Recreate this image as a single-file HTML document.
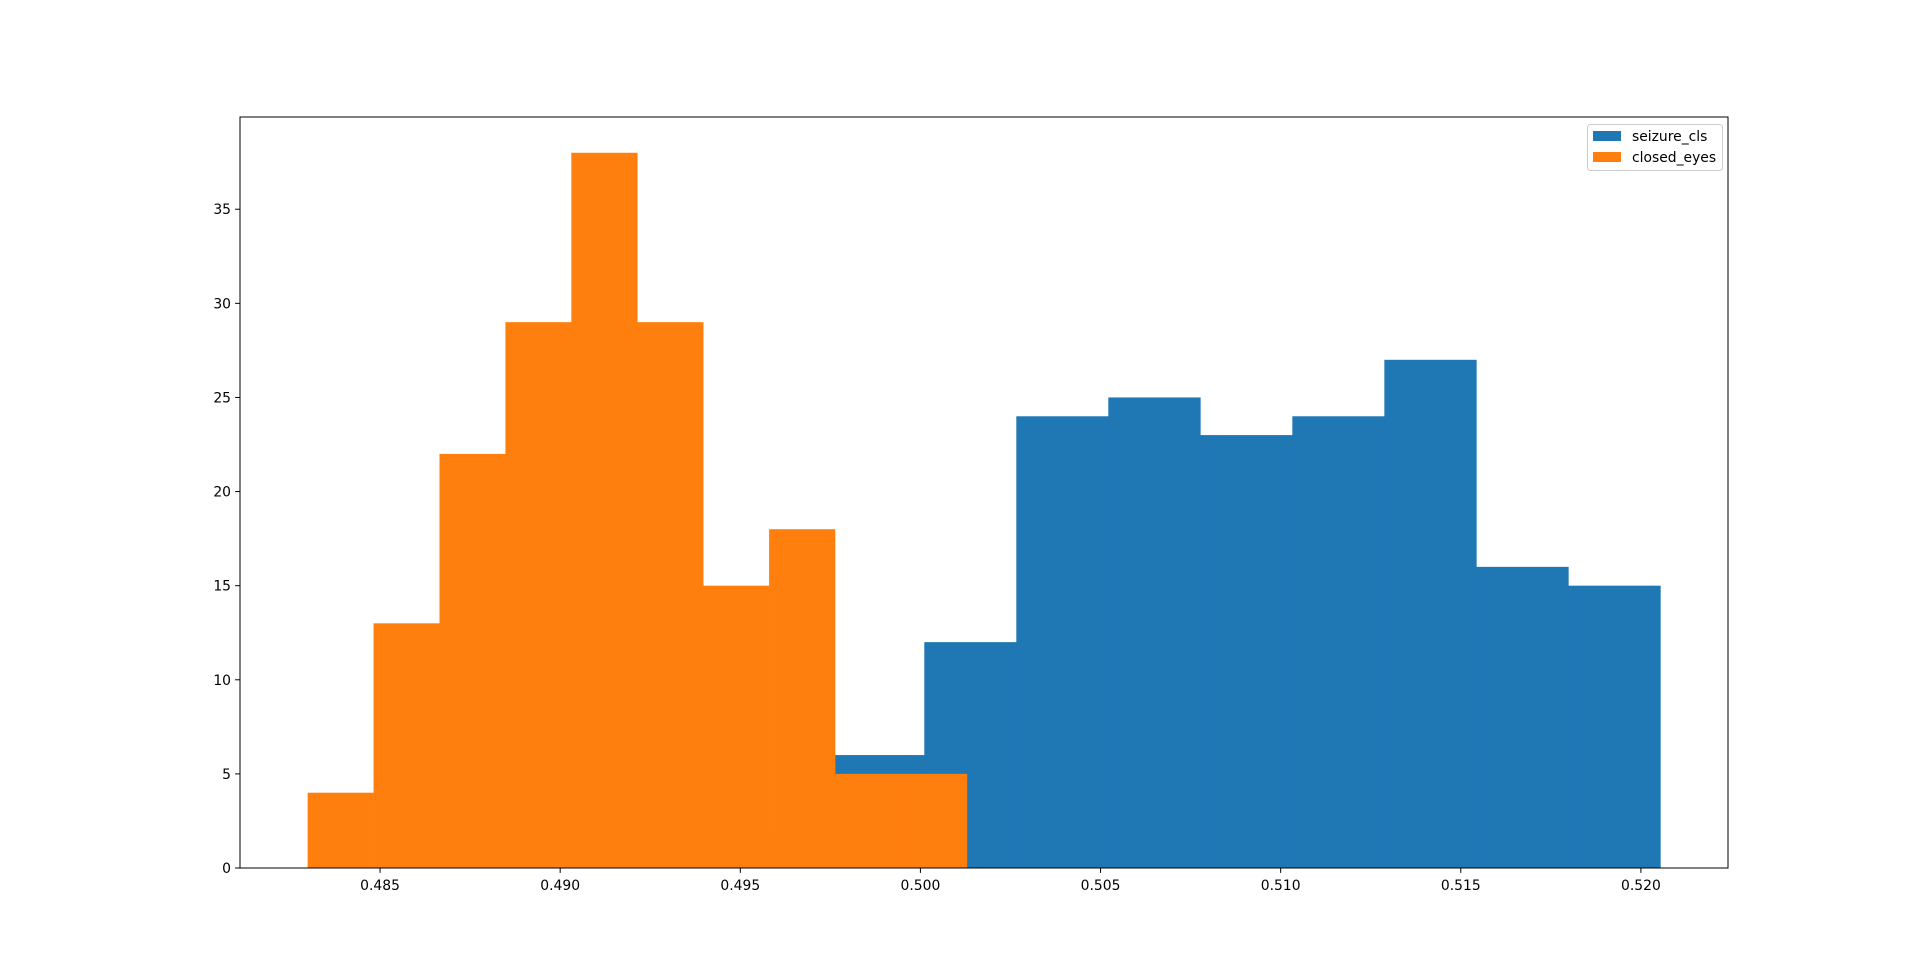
<!DOCTYPE html>
<html><head><meta charset="utf-8"><style>
html,body{margin:0;padding:0;background:#fff;}
svg{display:block;font-family:"DejaVu Sans","Liberation Sans",sans-serif;}
</style></head><body>
<svg id="chart" width="1920" height="975">
<rect width="1920" height="975" fill="#fff"/>
<g id="bars"></g>
<g id="axes"></g>
<g>
<rect x="1587.5" y="124.5" width="135" height="46" rx="3" fill="#fff" fill-opacity="0.8" stroke="#ccc"/>
<rect x="1593" y="131" width="28" height="10" fill="#1f77b4"/>
<text x="1632" y="141" font-size="13.9" fill="#000">seizure_cls</text>
<rect x="1593" y="152" width="28" height="10" fill="#ff7f0e"/>
<text x="1632" y="162" font-size="13.9" fill="#000">closed_eyes</text>
</g>
</svg>
<script>
const blueStart = 0.49500;
const blueEnd = 0.52054;
const blueCounts = [2, 6, 12, 24, 25, 23, 24, 27, 16, 15];
const orangeStart = 0.48299;
const orangeEnd = 0.50129;
const orangeCounts = [4, 13, 22, 29, 38, 29, 15, 18, 5, 5];
const xTicks = [0.485, 0.490, 0.495, 0.500, 0.505, 0.510, 0.515, 0.520];
const yTicks = [0, 5, 10, 15, 20, 25, 30, 35];

const L = 240, R = 1728, T = 117, B = 868;
const lo = Math.min(blueStart, orangeStart), hi = Math.max(blueEnd, orangeEnd);
const xmin = lo - (hi - lo) * 0.05, xmax = hi + (hi - lo) * 0.05;
const ymax = Math.max(...blueCounts, ...orangeCounts) * 1.05;
const sx = v => L + (v - xmin) / (xmax - xmin) * (R - L);
const sy = v => B - v / ymax * (B - T);
const NS = "http://www.w3.org/2000/svg";
const bars = document.getElementById('bars');
const axes = document.getElementById('axes');

function drawHist(start, end, counts, color, name) {
  const w = (end - start) / counts.length;
  counts.forEach((c, i) => {
    const r = document.createElementNS(NS, 'rect');
    const x0 = sx(start + i * w), x1 = sx(start + (i + 1) * w);
    r.setAttribute('x', x0);
    r.setAttribute('y', sy(c));
    r.setAttribute('width', x1 - x0 + 0.3);
    r.setAttribute('height', B - sy(c));
    r.setAttribute('fill', color);
    
    
    bars.appendChild(r);
  });
}
drawHist(blueStart, blueEnd, blueCounts, '#1f77b4', 'seizure-cls');
drawHist(orangeStart, orangeEnd, orangeCounts, '#ff7f0e', 'closed-eyes');

const frame = document.createElementNS(NS, 'rect');
frame.setAttribute('x', L); frame.setAttribute('y', T);
frame.setAttribute('width', R - L); frame.setAttribute('height', B - T);
frame.setAttribute('fill', 'none'); frame.setAttribute('stroke', '#000'); frame.setAttribute('stroke-width', '1');


axes.appendChild(frame);

xTicks.forEach(v => {
  const x = sx(v);
  const l = document.createElementNS(NS, 'line');
  l.setAttribute('x1', x); l.setAttribute('x2', x); l.setAttribute('y1', B); l.setAttribute('y2', B + 4.9);
  l.setAttribute('stroke', '#000');
  
  
  axes.appendChild(l);
  const t = document.createElementNS(NS, 'text');
  t.setAttribute('x', x); t.setAttribute('y', B + 22); t.setAttribute('text-anchor', 'middle'); t.setAttribute('font-size', '13.9');
  t.textContent = v.toFixed(3);
  
  
  axes.appendChild(t);
});
yTicks.forEach(v => {
  const y = sy(v);
  const l = document.createElementNS(NS, 'line');
  l.setAttribute('x1', L - 4.9); l.setAttribute('x2', L); l.setAttribute('y1', y); l.setAttribute('y2', y);
  l.setAttribute('stroke', '#000');
  
  
  axes.appendChild(l);
  const t = document.createElementNS(NS, 'text');
  t.setAttribute('x', L - 9); t.setAttribute('y', y + 5); t.setAttribute('text-anchor', 'end'); t.setAttribute('font-size', '13.9');
  t.textContent = v;
  
  
  axes.appendChild(t);
});
</script>
</body></html>
